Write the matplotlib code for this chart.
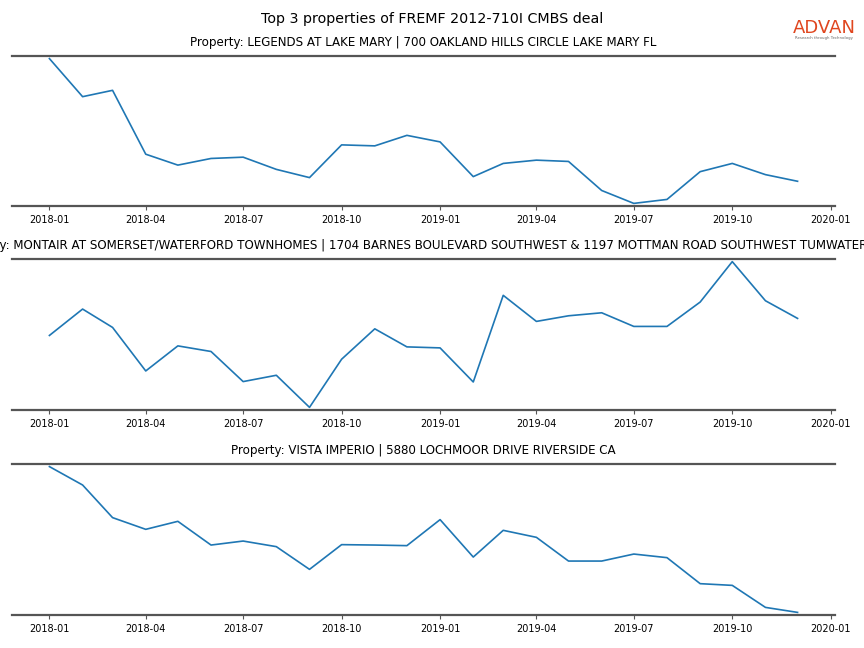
import numpy as np
import pandas as pd
import matplotlib
matplotlib.use("Agg")
import matplotlib.pyplot as plt
import matplotlib.dates as mdates

# =========================
# DATA
# =========================

months = pd.date_range("2018-01-01", "2019-12-01", freq="MS")

suptitle = "Top 3 properties of FREMF 2012-710I CMBS deal"

titles = [
    "Property: LEGENDS AT LAKE MARY | 700 OAKLAND HILLS CIRCLE LAKE MARY FL",
    "Property: MONTAIR AT SOMERSET/WATERFORD TOWNHOMES | 1704 BARNES BOULEVARD SOUTHWEST & 1197 MOTTMAN ROAD SOUTHWEST TUMWATER WA",
    "Property: VISTA IMPERIO | 5880 LOCHMOOR DRIVE RIVERSIDE CA",
]

legends_visits = [147.7, 109.3, 115.7, 51.3, 40.3, 47.0, 48.3, 36.0, 27.7, 60.7, 59.7, 70.3,
                  63.7, 28.7, 42.0, 45.3, 44.0, 14.7, 1.7, 5.7, 33.7, 42.0, 30.7, 24.0]

montair_visits = [73.7, 100.0, 81.7, 38.3, 63.3, 57.7, 27.7, 34.0, 2.0, 50.0, 80.3, 62.3,
                  61.3, 27.3, 113.7, 87.7, 93.3, 96.3, 82.7, 82.7, 107.0, 147.3, 108.3, 90.7]

vista_visits = [147.7, 129.3, 96.7, 85.0, 93.0, 69.3, 73.3, 67.7, 45.0, 69.7, 69.3, 68.7,
                94.7, 57.3, 84.0, 77.0, 53.3, 53.3, 60.3, 56.7, 30.7, 29.0, 7.0, 2.0]

series = [legends_visits, montair_visits, vista_visits]

# =========================
# PLOT
# =========================

fig = plt.figure(figsize=(8.64, 6.48), dpi=100)

axes_boxes = [
    [0.0139, 0.6821, 0.9525, 0.2315],
    [0.0139, 0.3673, 0.9525, 0.2330],
    [0.0139, 0.0509, 0.9525, 0.2331],
]

for box, title, values in zip(axes_boxes, titles, series):
    ax = fig.add_axes(box)
    ax.plot(months, values, color="#1f77b4", linewidth=1.2)
    ax.margins(x=0.05, y=0.018)

    ax.set_title(title, fontsize=8.6, pad=7)

    ax.spines["left"].set_visible(False)
    ax.spines["right"].set_visible(False)
    ax.spines["top"].set_color("#555555")
    ax.spines["bottom"].set_color("#555555")
    ax.spines["top"].set_linewidth(1.6)
    ax.spines["bottom"].set_linewidth(1.6)

    ax.set_yticks([])
    ax.xaxis.set_major_locator(mdates.MonthLocator(bymonth=[1, 4, 7, 10]))
    ax.xaxis.set_major_formatter(mdates.DateFormatter("%Y-%m"))
    ax.tick_params(axis="x", labelsize=7, length=3, color="#555555")

fig.suptitle(suptitle, fontsize=10.3, y=0.981)

# logo
fig.text(0.954, 0.957, "ADVAN", fontsize=13, color="#e0461f",
         ha="center", va="center")
fig.text(0.954, 0.941, "Research through Technology", fontsize=2.8,
         color="#666666", ha="center", va="center")

plt.savefig("out.png", dpi=100)
